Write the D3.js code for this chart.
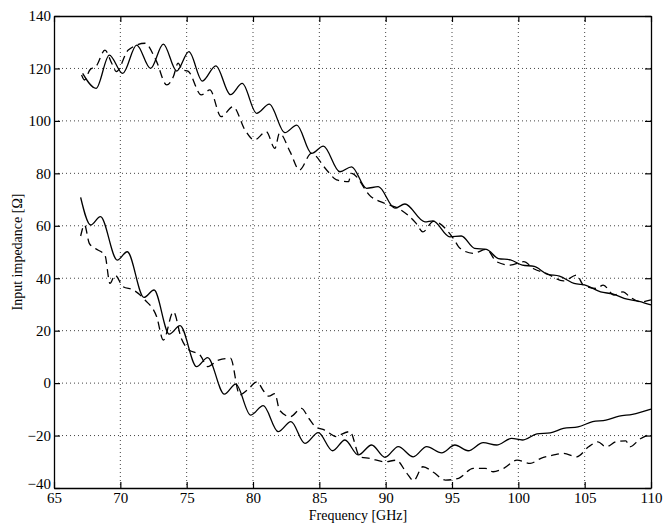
<!DOCTYPE html>
<html><head><meta charset="utf-8">
<script src="https://cdn.jsdelivr.net/npm/d3@7"></script>
<style>body{margin:0;background:#fff}svg{display:block}text{font-family:"Liberation Serif","DejaVu Serif","Times New Roman",serif;fill:#000}</style>
</head><body>
<svg id="c" width="665" height="525"></svg>
<script>
const xTicks=[65,70,75,80,85,90,95,100,105,110];
const yTicks=[-40,-20,0,20,40,60,80,100,120,140];
const upperSolid=[[67.16,118.1],[68.17,112.4],[69.17,125.1],[70.18,118.1],[71.23,128.9],[72.28,120],[73.24,129.3],[74.25,119],[75.17,126.4],[76.18,115.2],[77.2,121],[78.3,110],[79.19,114.3],[80.27,102.9],[81.23,106.4],[82.4,95.5],[83.3,98.4],[84.42,87.6],[85.3,90.4],[86.55,80.6],[87.43,82.5],[88.56,74.3],[89.44,74.9],[90.7,66.7],[91.45,68.3],[92.96,61.5],[93.56,61.9],[94.84,55.8],[95.7,56.1],[96.7,51.4],[97.6,51],[98.5,47.5],[99.4,47],[100.3,45],[101.2,44.5],[102.2,41.5],[103.1,40.8],[104.2,38],[105.1,37.3],[106.2,34.8],[107.1,34],[108.2,32],[109.1,31.2],[110,29.8]];
const upperDashed=[[67.08,117.5],[67.3,115.6],[67.7,119.4],[68.2,121],[68.84,127],[69.35,122],[69.7,118.8],[70.6,127],[71.86,129.6],[72.7,123],[73.5,113.7],[74,116.9],[74.35,122],[74.7,119.4],[75.1,119],[76.1,109.9],[76.75,111.8],[77.6,101.6],[78.5,105.4],[79.4,96.5],[80.1,92.7],[81,95.9],[81.65,89.5],[82,95.3],[82.8,88.2],[83.5,81.3],[84.4,87.6],[85.55,81.3],[86.3,77.5],[87.2,76.8],[87.4,80],[88.9,71.1],[89.9,68.6],[91.0,66.5],[92.3,60.9],[92.8,57.7],[93.6,61.7],[95.1,55.2],[95.6,51.4],[96.6,49.5],[97.6,51],[98.36,46.3],[99.4,45],[100.4,46.3],[101.2,43.5],[102.1,41.9],[103.4,39],[104.4,41.2],[104.9,37.4],[105.9,36.1],[106.4,37.4],[107.2,33.6],[107.9,34.8],[108.4,32.9],[109.2,31],[110,31.7]];
const lowerSolid=[[67.01,70.8],[67.76,60.3],[68.5,63.5],[69.77,46.9],[70.52,50.1],[71.78,32.7],[72.54,35.5],[73.69,18.7],[74.5,21.9],[75.75,6.3],[76.58,9.7],[77.84,-4.2],[78.7,-0.4],[79.82,-12.2],[80.77,-8.6],[81.9,-18.5],[82.86,-14.7],[83.91,-23],[84.92,-18.9],[86,-25.8],[86.93,-21.7],[87.93,-27.4],[88.94,-23.6],[89.95,-28.3],[90.95,-24.2],[92.08,-28.1],[93.09,-24.2],[94.22,-26.6],[95.22,-23.6],[96.22,-25.8],[97.35,-22.7],[98.36,-23.6],[99.5,-21.1],[100.3,-21.7],[101.4,-19.4],[102.4,-19],[103.4,-17.3],[104.5,-16.7],[105.6,-14.7],[106.6,-14.1],[107.6,-12.6],[108.6,-11.9],[110,-9.9]];
const lowerDashed=[[67.01,56.1],[67.3,60.3],[67.66,53.3],[68.09,51.4],[68.84,48.8],[69.22,38],[69.6,41.2],[70.2,36.8],[70.98,35.5],[71.86,31.7],[72.74,25.3],[73.24,16.4],[74,27.2],[74.6,17],[75.1,12.9],[76,10.7],[76.6,6.3],[77.4,8.8],[78.3,9.5],[79,-4.5],[79.6,-2.5],[80.3,0.5],[80.8,-3],[81.2,-5],[81.65,-4],[82,-10.3],[82.8,-12.8],[83.66,-9.6],[84.2,-13.4],[84.7,-16.6],[85.4,-17.9],[86.3,-20.4],[86.55,-19.8],[87.3,-18.5],[88.06,-28.1],[88.8,-28.7],[89.95,-30],[90.8,-29.4],[91.6,-34.4],[92.1,-37.2],[92.8,-31.9],[93.6,-34],[94.5,-37],[95.5,-36.3],[96.6,-32.5],[97.5,-32.5],[98.1,-33.8],[98.9,-32.5],[99.9,-29.4],[100.9,-30.6],[101.7,-28.7],[102.6,-27.5],[103.4,-26.8],[104.4,-28.1],[105.3,-24.3],[106,-22.4],[106.6,-24.3],[107.4,-22.3],[108.1,-22],[108.4,-24.3],[109.2,-21.2],[110,-19.3]];

const L=54,R=651,T=16,B=488;
const svg=d3.select("#c");
const x=d3.scaleLinear().domain([65,110]).range([L,R]);
const y=d3.scaleLinear().domain([-40,140]).range([B,T]);
const FONT='"Liberation Serif","DejaVu Serif","Times New Roman",serif';

// grid
const g=svg.append("g");
g.selectAll(".gx").data(xTicks.slice(1,-1)).join("line")
 .attr("x1",d=>x(d)).attr("x2",d=>x(d)).attr("y1",T).attr("y2",B)
 .attr("stroke","#444").attr("stroke-width",1).attr("stroke-dasharray","1,3");
g.selectAll(".gy").data(yTicks.slice(1,-1)).join("line")
 .attr("y1",d=>y(d)).attr("y2",d=>y(d)).attr("x1",L).attr("x2",R)
 .attr("stroke","#444").attr("stroke-width",1).attr("stroke-dasharray","1,3");

// axes
const ax=(gen,tr)=>svg.append("g").attr("transform",tr).attr("font-family",FONT).call(gen);
const styleAx=sel=>{sel.attr("font-family",FONT);sel.select(".domain").attr("stroke","#000").attr("stroke-width",1.3);sel.selectAll(".tick line").attr("stroke","#000").attr("stroke-width",1.2);sel.selectAll("text").style("font-family",FONT).style("font-size","15px").attr("fill","#000");};
styleAx(ax(d3.axisBottom(x).tickValues(xTicks).tickSize(-6).tickPadding(4).tickSizeOuter(0).tickFormat(d3.format("d")),`translate(0,${B})`));
const yAx=ax(d3.axisLeft(y).tickValues(yTicks).tickSize(-6).tickPadding(3).tickSizeOuter(0).tickFormat(d=>d<0?"\u2212"+Math.abs(d):d),`translate(${L},0)`);
styleAx(yAx);
yAx.selectAll(".tick text").filter(d=>d===-40).attr("dy","0.0em");
styleAx(ax(d3.axisTop(x).tickValues(xTicks).tickSize(-6).tickSizeOuter(0).tickFormat(""),`translate(0,${T})`));
styleAx(ax(d3.axisRight(y).tickValues(yTicks).tickSize(-6).tickSizeOuter(0).tickFormat(""),`translate(${R},0)`));

// lines
const line=d3.line().x(d=>x(d[0])).y(d=>y(d[1])).curve(d3.curveMonotoneX);
const series=[[upperSolid,null],[lowerSolid,null],[upperDashed,"8,5"],[lowerDashed,"8,5"]];
series.forEach(([data,dash])=>{
 svg.append("path").datum(data).attr("d",line).attr("fill","none").attr("stroke","#000")
  .attr("stroke-width",1.3).attr("stroke-dasharray",dash);
});

// titles
svg.append("text").attr("x",358).attr("y",520).attr("text-anchor","middle").style("font-family",FONT).style("font-size","14px").text("Frequency [GHz]");
svg.append("text").attr("transform","translate(22,252) rotate(-90)").attr("text-anchor","middle").style("font-family",FONT).style("font-size","14px").text("Input impedance [\u03A9]");
</script>
</body></html>
